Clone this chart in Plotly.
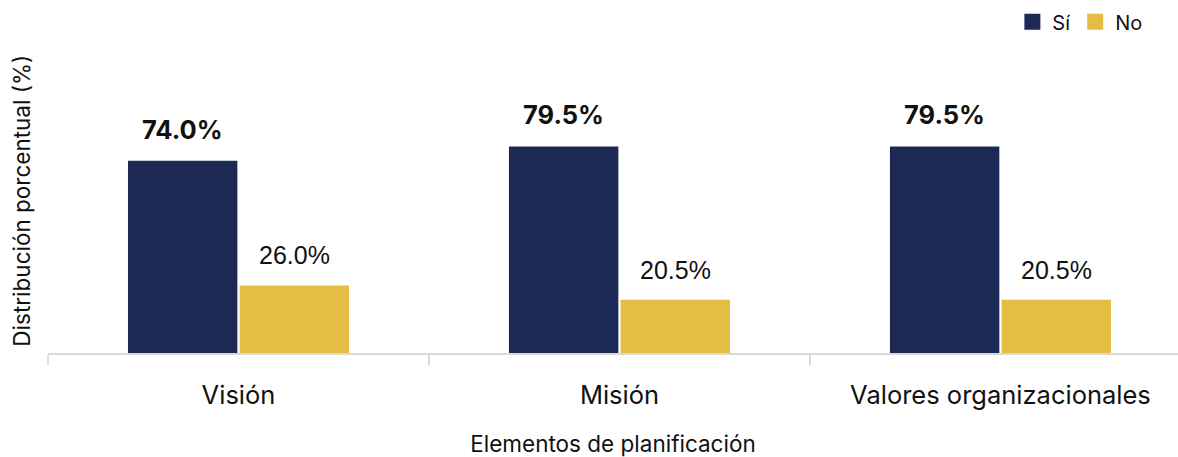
import plotly.graph_objects as go

# Planning elements and share of respondents (%)
categories = ["Visión", "Misión", "Valores organizacionales"]
si_values = [74.0, 79.5, 79.5]
no_values = [26.0, 20.5, 20.5]

NAVY = "#1d2955"
GOLD = "#e4bd45"
AXIS_GREY = "#d9d9d9"
FONT = "Inter, 'Noto Sans', sans-serif"

fig = go.Figure()
fig.add_trace(go.Bar(name="Sí", x=categories, y=si_values, marker_color=NAVY,
                     marker_line_width=0, showlegend=False))
fig.add_trace(go.Bar(name="No", x=categories, y=no_values, marker_color=GOLD,
                     marker_line_width=0, showlegend=False))

# Legend entries with larger square swatches
for name, color in (("Sí", NAVY), ("No", GOLD)):
    fig.add_trace(go.Scatter(x=[None], y=[None], mode="markers", name=name,
                             marker=dict(symbol="square", size=16, color=color)))

# Value labels above each bar: bold for "Sí", regular for "No"
for cat, v in zip(categories, si_values):
    fig.add_annotation(x=cat, y=v, text=f"<b>{v:.1f}%</b>", showarrow=False,
                       xshift=-56, yshift=14, yanchor="bottom",
                       font=dict(family=FONT, size=25.5, color="#111111"))
for cat, v in zip(categories, no_values):
    fig.add_annotation(x=cat, y=v, text=f"{v:.1f}%", showarrow=False,
                       xshift=56, yshift=14, yanchor="bottom",
                       font=dict(family="'Liberation Sans', Arial, sans-serif", size=25,
                                 color="#111111"))

# Vertical axis title
fig.add_annotation(text="Distribución porcentual (%)", textangle=-90,
                   xref="paper", yref="paper", x=0, y=0.5, xshift=-42, yshift=-4,
                   showarrow=False, font=dict(size=22.5, family=FONT, color="#111111"))

fig.update_layout(
    width=1178, height=457,
    margin=dict(l=48, r=0, t=40, b=104),
    paper_bgcolor="white", plot_bgcolor="white",
    barmode="group", bargap=0.414, bargroupgap=0.02,
    font=dict(family=FONT, color="#111111"),
    showlegend=True,
    legend=dict(orientation="h", x=0.974, xanchor="right", y=0.995, yanchor="top",
                yref="container", xref="container",
                font=dict(size=20, family=FONT), itemwidth=30,
                traceorder="normal", tracegroupgap=0),
    xaxis=dict(
        type="category", range=[-0.5, 2.466],
        showline=True, linecolor=AXIS_GREY, linewidth=2,
        ticks="outside", tickson="boundaries", ticklen=10, tickwidth=2,
        tickcolor=AXIS_GREY, ticklabelstandoff=18,
        tickfont=dict(size=25.5, family=FONT, color="#111111"),
        title=dict(text="Elementos de planificación", font=dict(size=22.5, family=FONT),
                   standoff=30),
        showgrid=False, automargin=False,
    ),
    yaxis=dict(
        range=[0, 120], showticklabels=False, showgrid=False, zeroline=False,
        showline=False, ticks="",
    ),
)

fig.write_html("out.html")
